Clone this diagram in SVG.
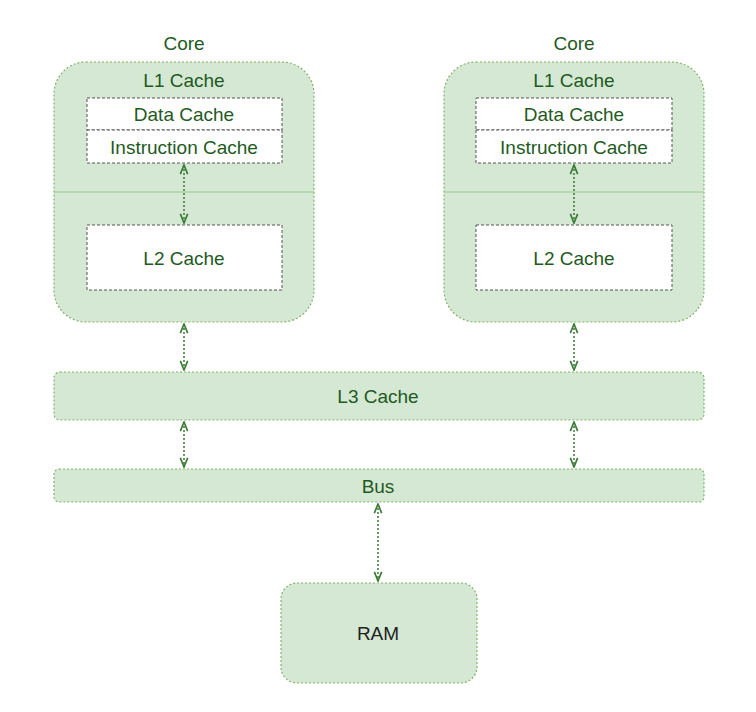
<svg xmlns="http://www.w3.org/2000/svg" width="756" height="712" viewBox="0 0 756 712">
<style>
.g{fill:#d5e8d4;stroke:#82b366;stroke-width:1.2;stroke-dasharray:2 2}
.w{fill:#ffffff;stroke:#555;stroke-width:1;stroke-dasharray:3 2}
.t{font-family:"Liberation Sans",Arial,sans-serif;font-size:19px;fill:#1f5a1f;text-anchor:middle;dominant-baseline:central}
.k{fill:#222}
.c{stroke:#3b7a35;stroke-width:1.5;stroke-dasharray:2 2;fill:none;marker-start:url(#a);marker-end:url(#a)}
</style>
<defs>
<marker id="a" viewBox="0 0 12 12" refX="11" refY="6" markerWidth="11" markerHeight="11" orient="auto-start-reverse" markerUnits="userSpaceOnUse">
<path d="M1,2 L11,6 L1,10" fill="none" stroke="#3b7a35" stroke-width="1.8"/>
</marker>
</defs>
<rect width="756" height="712" fill="#fff"/>
<g id="core1">
<text class="t" x="184" y="43">Core</text>
<rect class="g" x="54" y="62" width="260" height="260" rx="32"/>
<line x1="54" y1="192" x2="314" y2="192" stroke="#9cc98f" stroke-width="1.2"/>
<text class="t" x="184" y="80">L1 Cache</text>
</g>
<g id="data1"><rect class="w" x="87" y="98" width="195" height="32"/><text class="t" x="184" y="114">Data Cache</text></g>
<g id="instr1"><rect class="w" x="87" y="130" width="195" height="33"/><text class="t" x="184" y="147">Instruction Cache</text></g>
<g id="l2a"><rect class="w" x="87" y="225" width="195" height="65"/><text class="t" x="184" y="258">L2 Cache</text></g>
<g id="core2">
<text class="t" x="574" y="43">Core</text>
<rect class="g" x="444" y="62" width="260" height="260" rx="32"/>
<line x1="444" y1="192" x2="704" y2="192" stroke="#9cc98f" stroke-width="1.2"/>
<text class="t" x="574" y="80">L1 Cache</text>
</g>
<g id="data2"><rect class="w" x="476" y="98" width="196" height="32"/><text class="t" x="574" y="114">Data Cache</text></g>
<g id="instr2"><rect class="w" x="476" y="130" width="196" height="33"/><text class="t" x="574" y="147">Instruction Cache</text></g>
<g id="l2b"><rect class="w" x="476" y="225" width="196" height="65"/><text class="t" x="574" y="258">L2 Cache</text></g>
<g id="l3"><rect class="g" x="54" y="372" width="650" height="48" rx="6"/><text class="t" x="378" y="396">L3 Cache</text></g>
<g id="bus"><rect class="g" x="54" y="469" width="650" height="33" rx="5"/><text class="t" x="378" y="486">Bus</text></g>
<g id="ram"><rect class="g" x="281" y="583" width="196" height="100" rx="16"/><text class="t k" x="378" y="633">RAM</text></g>
<g id="connectors">
<line class="c" x1="184" y1="165" x2="184" y2="223"/>
<line class="c" x1="574" y1="165" x2="574" y2="223"/>
<line class="c" x1="184" y1="324" x2="184" y2="370"/>
<line class="c" x1="574" y1="324" x2="574" y2="370"/>
<line class="c" x1="184" y1="422" x2="184" y2="467"/>
<line class="c" x1="574" y1="422" x2="574" y2="467"/>
<line class="c" x1="378" y1="504" x2="378" y2="581"/>
</g>
</svg>
